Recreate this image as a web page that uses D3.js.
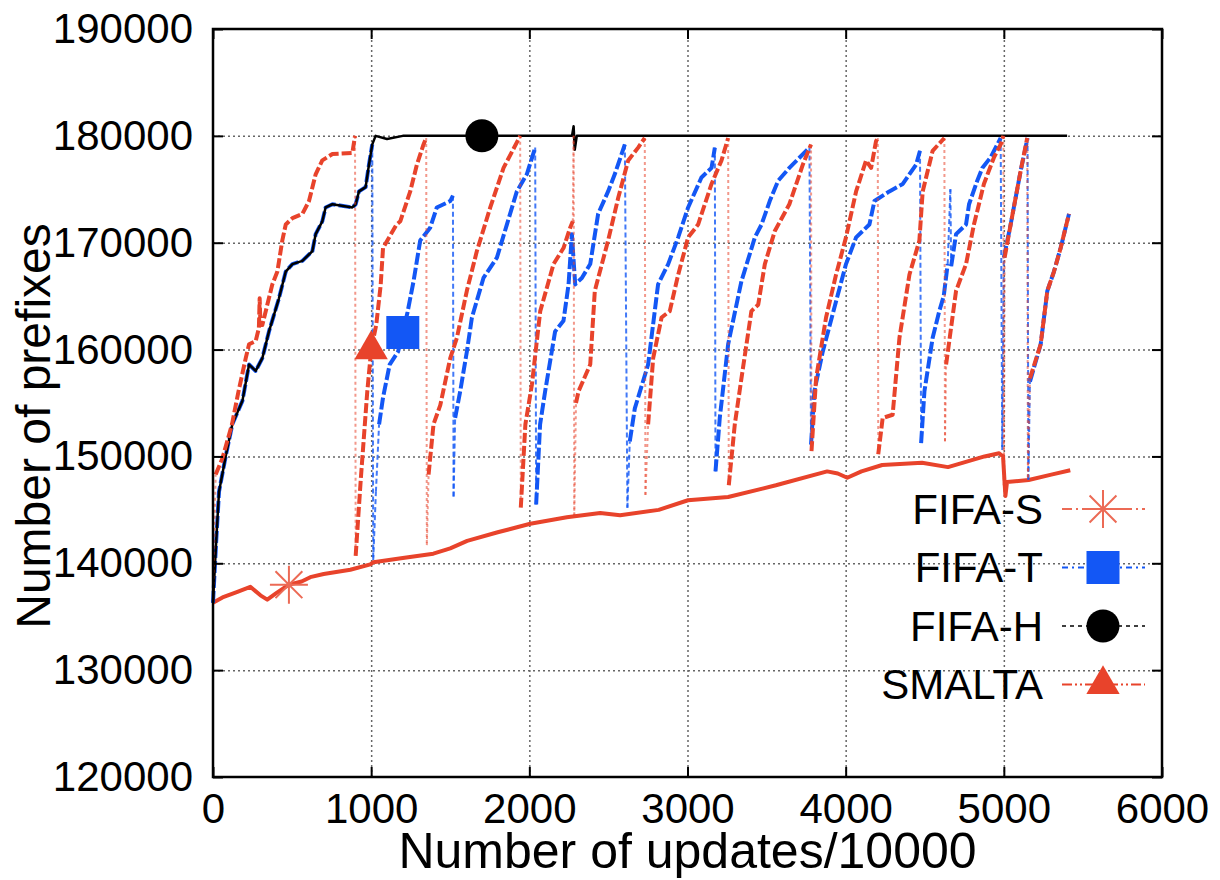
<!DOCTYPE html>
<html>
<head>
<meta charset="utf-8">
<script src="https://cdn.jsdelivr.net/npm/d3@7"></script>
<style>
html, body { margin: 0; padding: 0; background: #fff; }
svg { display: block; font-family: "Liberation Sans", Arial, Helvetica, sans-serif; }
</style>
</head>
<body>
<svg id="chart" width="1220" height="880"></svg>
<script>
const seriesNames = ["FIFA-S", "FIFA-T", "FIFA-H", "SMALTA"];
const xTicks = [0, 1000, 2000, 3000, 4000, 5000, 6000];
const yTicks = [120000, 130000, 140000, 150000, 160000, 170000, 180000, 190000];

// values: [updates/10000, prefixes]
const fifaS = [[0,136300],[60,136800],[150,137300],[236,137800],[300,137000],[343,136600],[400,137200],[480,138000],
  [560,138300],[615,138700],[700,139000],[868,139400],[995,139900],[1014,140100],[1200,140500],[1393,140900],
  [1500,141400],[1607,142100],[1800,142900],[2006,143700],[2237,144300],[2448,144700],[2574,144500],[2818,145000],
  [3003,145900],[3257,146200],[3559,147300],[3883,148600],[3950,148400],[4010,148000],[4100,148600],[4231,149200],
  [4483,149400],[4647,149000],[4878,150000],[4970,150300],[4995,150000],[5005,147500],[5010,146300],[5020,147600],
  [5157,147800],[5300,148300],[5420,148700]];

const fifaT = [[0,136300],[20,142000],[38,146700],[80,150000],[122,153000],[186,155200],[228,158600],[270,158000],
  [312,159200],[354,161700],[417,164800],[460,167300],[502,168000],[565,168300],[628,169200],[649,170800],
  [691,172000],[712,173300],[755,173600],[881,173300],[902,173600],[923,174800],[965,175200],[986,177300],
  [1007,179200],[1013,140300],[1030,146700],[1050,153000],[1075,155500],[1117,158600],[1170,159800],[1200,161600],
  [1230,163500],[1268,166400],[1310,170200],[1373,171400],[1415,173300],[1500,173900],[1517,174400],[1521,146250],
  [1531,153600],[1563,156100],[1605,159800],[1637,163000],[1710,166700],[1795,168600],[1858,171700],[1921,174800],
  [1984,176400],[2037,178900],[2043,145500],[2068,153000],[2100,156100],[2163,161700],[2216,162700],[2248,166100],
  [2269,170800],[2290,166100],[2332,166700],[2385,168000],[2435,172700],[2498,174800],[2540,176400],[2604,179200],
  [2620,145200],[2635,151400],[2667,154500],[2751,158600],[2814,166100],[2878,168000],[2941,170500],[3004,173300],
  [3088,176100],[3152,177000],[3173,178900],[3177,148600],[3204,153600],[3257,160500],[3341,166400],[3426,170500],
  [3468,171700],[3520,173900],[3573,175800],[3644,177000],[3771,178900],[3781,151100],[3802,156100],[3855,159800],
  [3939,164500],[4002,168000],[4066,170500],[4150,171700],[4182,173900],[4276,174800],[4361,175500],[4445,177300],
  [4470,178600],[4477,151250],[4498,156100],[4550,161100],[4592,163600],[4620,165000],[4645,168000],[4662,175000],
  [4667,167800],[4698,170800],[4761,171700],[4780,173600],[4832,175800],[4864,177000],[4917,178000],[4980,179800],
  [4990,150600],[5000,168600],[5043,171700],[5106,176700],[5150,179800],[5155,147800],[5165,157000],[5233,160500],
  [5275,165500],[5317,167300],[5359,169500],[5412,172700]];

const fifaH = [[0,136300],[20,142000],[38,146700],[80,150000],[122,153000],[186,155200],[228,158600],[270,158000],
  [312,159200],[354,161700],[417,164800],[460,167300],[502,168000],[565,168300],[628,169200],[649,170800],
  [691,172000],[712,173300],[755,173600],[881,173300],[902,173600],[923,174800],[965,175200],[986,177300],
  [1007,179200],[1028,180000],[1100,179700],[1200,180000],[1500,180000],[2000,180000],[2270,180000],[2280,180900],
  [2287,178700],[2300,180000],[3000,180000],[4000,180000],[5400,180000]];

const smalta = [[0,136300],[17,148300],[59,149800],[120,153000],[160,156000],[207,159200],[228,160500],[270,160800],
  [290,162000],[295,164800],[300,162300],[312,162300],[375,166100],[407,167300],[438,170200],[460,171700],
  [502,172300],[565,172700],[607,173900],[649,176400],[691,177700],[755,178300],[881,178400],[898,180000],
  [902,140700],[935,148000],[975,156000],[1000,160000],[1032,162300],[1060,166000],[1075,169500],[1160,171700],
  [1184,172000],[1247,174800],[1289,177300],[1331,179200],[1348,179800],[1352,141700],[1363,148300],[1394,153000],
  [1437,154800],[1500,159200],[1542,161100],[1605,165500],[1668,169200],[1753,173300],[1837,177000],[1932,179700],
  [1942,180000],[1946,145200],[1975,153000],[2016,156700],[2069,163600],[2153,168000],[2216,169500],[2258,171400],
  [2275,172000],[2280,180000],[2284,144500],[2295,155000],[2311,156100],[2385,158600],[2414,165500],[2498,170200],
  [2562,174200],[2625,177700],[2688,178900],[2730,179800],[2734,146400],[2751,153000],[2783,159200],[2836,163000],
  [2888,163600],[2941,167000],[3004,170500],[3067,171700],[3152,175500],[3215,177700],[3257,179800],[3261,147300],
  [3299,153000],[3341,157300],[3404,163600],[3447,164200],[3489,168000],[3552,171100],[3644,173600],[3729,177300],
  [3781,179200],[3784,150500],[3813,157300],[3876,163000],[3939,167000],[4002,170500],[4066,174800],[4129,177700],
  [4161,177000],[4192,179500],[4203,179800],[4206,150200],[4234,153600],[4297,153900],[4340,161100],[4403,167000],
  [4466,170200],[4487,174800],[4550,178600],[4624,179800],[4628,151400],[4635,158600],[4698,165500],[4761,168000],
  [4811,171700],[4874,175500],[4938,178000],[4980,179200],[4997,180000],[5000,147300],[5005,168600],[5043,171700],
  [5106,176700],[5148,179800],[5152,148000],[5165,157300],[5233,160500],[5275,165500],[5317,167300],[5359,169500],
  [5412,172700]];

// where gnuplot dropped the point symbol of each series
const markerPoints = [[480,138000],[1200,161600],[1700,180000],[1000,160000]];

const red = '#e8432b';
const blue = '#1357f5';

const margin = {left: 213, right: 58, top: 29, bottom: 103};
const width = 1220;
const height = 880;
const plotW = width - margin.left - margin.right;
const plotH = height - margin.top - margin.bottom;

const x = d3.scaleLinear().domain([0, 6000]).range([margin.left, margin.left + plotW]);
const y = d3.scaleLinear().domain([120000, 190000]).range([margin.top + plotH, margin.top]);

const svg = d3.select('#chart');

// dotted grid
svg.append('g')
    .attr('transform', `translate(0,${margin.top + plotH})`)
    .call(d3.axisBottom(x).tickValues(xTicks.slice(1, -1)).tickSize(-plotH).tickFormat(''))
    .call(g => g.select('.domain').remove())
    .selectAll('line').attr('stroke', '#666').attr('stroke-width', 1.5).attr('stroke-dasharray', '2,3');
svg.append('g')
    .attr('transform', `translate(${margin.left},0)`)
    .call(d3.axisLeft(y).tickValues(yTicks.slice(1, -1)).tickSize(-plotW).tickFormat(''))
    .call(g => g.select('.domain').remove())
    .selectAll('line').attr('stroke', '#666').attr('stroke-width', 1.5).attr('stroke-dasharray', '2,3');

// series
const line = d3.line().x(d => x(d[0])).y(d => y(d[1]));

function drawPlain(data, color, w) {
    svg.append('path').datum(data)
        .attr('fill', 'none').attr('stroke', color).attr('stroke-width', w)
        .attr('stroke-linejoin', 'round').attr('d', line);
}

// sawtooth series: climbing runs are thick, the resets are thin dotted
function drawSaw(data, color, dash, dropDash, dropOpacity) {
    let runs = [], drops = [], run = [data[0]];
    for (let i = 1; i < data.length; i++) {
        const a = data[i - 1], b = data[i];
        if (Math.abs(b[1] - a[1]) > 6000 && b[0] - a[0] < 25) {
            drops.push([a, b]);
            runs.push(run);
            run = [b];
        } else {
            run.push(b);
        }
    }
    runs.push(run);
    svg.append('g').selectAll('path').data(drops).enter().append('path')
        .attr('fill', 'none').attr('stroke', color).attr('stroke-width', 2)
        .attr('stroke-dasharray', dropDash).attr('opacity', dropOpacity).attr('d', line);
    svg.append('g').selectAll('path').data(runs).enter().append('path')
        .attr('fill', 'none').attr('stroke', color).attr('stroke-width', 4)
        .attr('stroke-dasharray', dash).attr('stroke-linejoin', 'round').attr('d', line);
}

drawPlain(fifaS, red, 4);
drawSaw(fifaT, blue, '12,3', '5,3', 0.8);
drawPlain(fifaH, '#000', 2.5);
drawSaw(smalta, red, '10,3', '3,3', 0.55);

// point symbols
const asterisk = {
    draw(ctx, size) {
        const r = Math.sqrt(size) / 2, d = r * Math.SQRT1_2;
        ctx.moveTo(-r, 0); ctx.lineTo(r, 0);
        ctx.moveTo(0, -r); ctx.lineTo(0, r);
        ctx.moveTo(-d, -d); ctx.lineTo(d, d);
        ctx.moveTo(-d, d); ctx.lineTo(d, -d);
    }
};
const symbols = [
    {type: asterisk, size: 38 * 38, fill: 'none', stroke: '#ec6a55'},
    {type: d3.symbolSquare, size: 33 * 33, fill: blue, stroke: 'none'},
    {type: d3.symbolCircle, size: Math.PI * 16.5 * 16.5, fill: '#000', stroke: 'none'},
    {type: d3.symbolTriangle, size: 480, fill: red, stroke: 'none'}
];
function drawSymbol(i, cx, cy) {
    const s = symbols[i];
    svg.append('path')
        .attr('transform', `translate(${cx},${cy})`)
        .attr('d', d3.symbol().type(s.type).size(s.size)())
        .attr('fill', s.fill).attr('stroke', s.stroke).attr('stroke-width', 2);
}
markerPoints.forEach((p, i) => drawSymbol(i, x(p[0]), y(p[1])));

// frame and ticks
svg.append('rect')
    .attr('x', margin.left).attr('y', margin.top).attr('width', plotW).attr('height', plotH)
    .attr('fill', 'none').attr('stroke', '#000').attr('stroke-width', 2.5);

const xAxis = svg.append('g')
    .attr('transform', `translate(0,${margin.top + plotH})`)
    .call(d3.axisBottom(x).tickValues(xTicks).tickSizeInner(-10).tickSizeOuter(0).tickPadding(16).tickFormat(d3.format('d')));
svg.append('g')
    .attr('transform', `translate(0,${margin.top})`)
    .call(d3.axisTop(x).tickValues(xTicks).tickSizeInner(-10).tickSizeOuter(0).tickFormat(''));
const yAxis = svg.append('g')
    .attr('transform', `translate(${margin.left},0)`)
    .call(d3.axisLeft(y).tickValues(yTicks).tickSizeInner(-10).tickSizeOuter(0).tickPadding(20).tickFormat(d3.format('d')));
svg.append('g')
    .attr('transform', `translate(${margin.left + plotW},0)`)
    .call(d3.axisRight(y).tickValues(yTicks).tickSizeInner(-10).tickSizeOuter(0).tickFormat(''));

svg.selectAll('.domain').remove();
svg.selectAll('.tick line').filter(function () { return !this.getAttribute('stroke-dasharray'); })
    .attr('stroke', '#000').attr('stroke-width', 2);
[xAxis, yAxis].forEach(a => a.selectAll('text')
    .attr('font-family', '"Liberation Sans", Arial, sans-serif').attr('font-size', 42).attr('fill', '#000'));

// axis titles
svg.append('text')
    .attr('x', x(3000)).attr('y', 868)
    .attr('text-anchor', 'middle').attr('font-size', 50)
    .text('Number of updates/10000');
svg.append('text')
    .attr('transform', 'translate(50,426)rotate(-90)')
    .attr('text-anchor', 'middle').attr('font-size', 48)
    .text('Number of prefixes');

// legend
const legendStyles = [
    {color: '#ec6a55', dash: '10,4,2,4', w: 2},
    {color: blue, dash: '6,4,2,4', w: 2},
    {color: '#000', dash: '4,4', w: 1.5},
    {color: red, dash: '10,3,2,3,2,3', w: 2}
];
const legend = svg.append('g').selectAll('g').data(seriesNames).enter().append('g')
    .attr('transform', (d, i) => `translate(0,${509 + i * 58.5})`);
legend.append('text')
    .attr('x', 1043).attr('y', 0).attr('dy', '0.35em')
    .attr('text-anchor', 'end').attr('font-size', 42)
    .text(d => d);
legend.append('line')
    .attr('x1', 1062).attr('x2', 1145)
    .attr('stroke', (d, i) => legendStyles[i].color)
    .attr('stroke-width', (d, i) => legendStyles[i].w)
    .attr('stroke-dasharray', (d, i) => legendStyles[i].dash);
seriesNames.forEach((d, i) => drawSymbol(i, 1103, 509 + i * 58.5));
</script>
</body>
</html>
